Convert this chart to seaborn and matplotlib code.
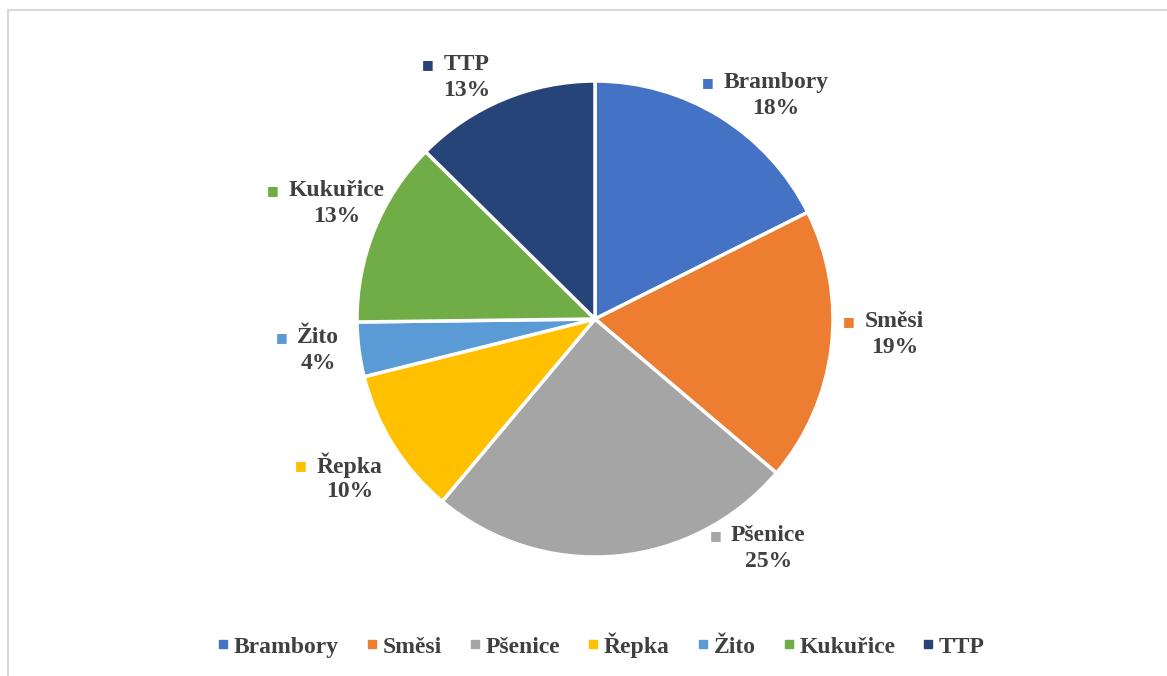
import numpy as np
import matplotlib.pyplot as plt
import seaborn as sns
from matplotlib.lines import Line2D

# data
categories = ["Brambory", "Směsi", "Pšenice", "Řepka", "Žito", "Kukuřice", "TTP"]
shares = [17.6, 18.6, 24.9, 10.0, 3.7, 12.6, 12.6]
colors = ["#4472C4", "#ED7D31", "#A5A5A5", "#FFC000", "#5B9BD5", "#70AD47", "#264478"]

# label placement (angle clockwise from top, distance in radii)
label_angles = [39, 93, 143, 237, 263.5, 294, 332]
label_dist = [1.21, 1.26, 1.21, 1.23, 1.17, 1.19, 1.15]

sns.set_theme(style="white")
plt.rcParams["font.family"] = ["Liberation Serif", "DejaVu Serif"]
text_color = "#404040"

W, H = 1167, 676
fig = plt.figure(figsize=(W / 100, H / 100), dpi=100)
ax = fig.add_axes([0, 0, 1, 1])

cx, cy, r = 595, H - 319, 238
wedges, _ = ax.pie(shares, colors=colors, startangle=90, counterclock=False,
                   center=(cx, cy), radius=r, frame=True,
                   wedgeprops=dict(edgecolor="white", linewidth=2.5))
ax.set_xlim(0, W)
ax.set_ylim(0, H)
ax.axis("off")

for name, val, col, ang, d in zip(categories, shares, colors, label_angles, label_dist):
    a = np.deg2rad(ang)
    x = cx + d * r * np.sin(a)
    y = cy + d * r * np.cos(a)
    t = ax.text(x, y + 13, name, ha="center", va="center", fontsize=17,
                fontweight="bold", color=text_color)
    ax.text(x, y - 13, f"{round(val):.0f}%", ha="center", va="center", fontsize=17,
            fontweight="bold", color=text_color)
    ax.annotate("■", xy=(0, 0.5), xycoords=t, xytext=(-7, 0),
                textcoords="offset points", ha="right", va="center",
                fontsize=9, color=col, family="DejaVu Sans")

handles = [Line2D([], [], marker="s", linestyle="none", markersize=6,
                  markerfacecolor=c, markeredgecolor=c) for c in colors]
leg = fig.legend(handles, categories, loc="center", bbox_to_anchor=(600 / W, 1 - 645 / H),
                 ncol=len(categories), frameon=False, handletextpad=0.1,
                 columnspacing=1.05, handlelength=0.7,
                 prop=dict(family="Liberation Serif", weight="bold", size=17))
for txt in leg.get_texts():
    txt.set_color(text_color)

# chart border (only top/left visible in the crop)
fig.add_artist(Line2D([8 / W, 8 / W], [0, 1 - 10 / H], transform=fig.transFigure,
                      color="#D9D9D9", linewidth=1.5))
fig.add_artist(Line2D([8 / W, 1], [1 - 10 / H, 1 - 10 / H], transform=fig.transFigure,
                      color="#D9D9D9", linewidth=1.5))

fig.savefig("out.png", dpi=100, facecolor="white")
